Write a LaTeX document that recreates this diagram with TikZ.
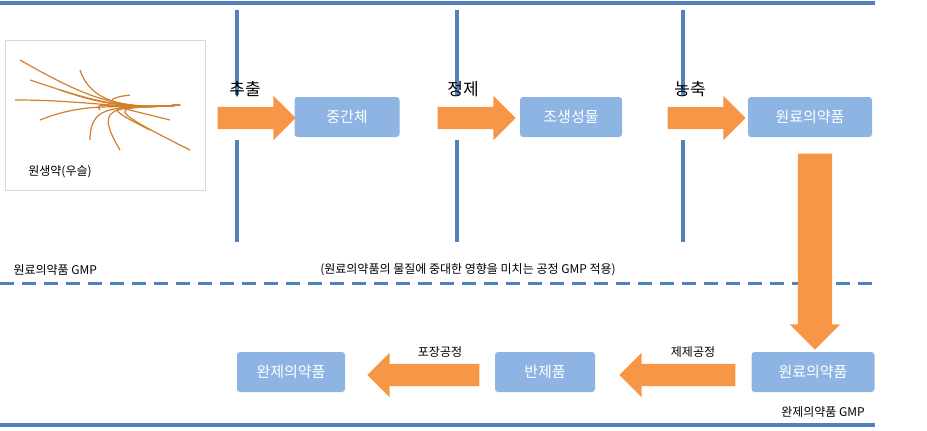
\documentclass[tikz,border=0pt]{standalone}
\usepackage{fontspec}
\setmainfont{Noto Sans CJK KR}
\usetikzlibrary{positioning, shapes.arrows}
\definecolor{lineblue}{HTML}{4F81BD}
\definecolor{boxblue}{HTML}{8EB4E3}
\definecolor{arrorange}{HTML}{F79646}
\newcommand{\shaft}[1]{\vrule width 0pt height #1 depth #1}
\tikzset{
    stepnode/.style = {fill=boxblue, rounded corners=0.3em, text=white, minimum height=40pt, font=\fontsize{15}{15}\selectfont},
    arrnode/.style = {single arrow, fill=arrorange, minimum height=78pt, single arrow head extend=11pt, single arrow tip angle=90, inner sep=0pt},
    labelnode/.style = {font=\fontsize{17}{17}\selectfont},
    smalltextnode/.style = {font=\fontsize{12}{12}\selectfont},
    bar/.style = {lineblue, line width=3.5pt}
}
\begin{document}
\begin{tikzpicture}[x=1pt, y=-1pt]
    \useasboundingbox (0,0) rectangle (927,431);
    % frame lines
    \draw[bar] (0,3) -- (875,3);
    \draw[bar] (0,425) -- (875,425);
    \draw[lineblue, line width=3pt, dash pattern=on 14pt off 8pt] (0,283) -- (875,283);
    \foreach \x in {237, 457, 683} {
        \draw[bar] (\x,10) -- (\x,95);
        \draw[bar] (\x,140) -- (\x,242);
    }
    % herb picture
    \node[draw=black!15, fill=white, minimum width=200pt, minimum height=150pt, name=P] at (105,115) {};
    \foreach \a/\b in {20/60, 30/80, 15/100, 40/120, 60/90, 80/70, 100/110, 130/95, 150/130, 170/120, 120/150, 90/140, 190/150} {
        \draw[brown!70!orange, line width=1.2pt] (\a,\b) .. controls (90,100) and (120,110) .. (180,105);
    }
    \node[smalltextnode, fill=white, name=PL] at (60,172) {원생약(우슬)};
    % top row
    \node[stepnode, minimum width=105pt, name=B1] at (347,117) {중간체};
    \node[stepnode, minimum width=102pt, name=B2] at (571,117) {조생성물};
    \node[stepnode, minimum width=124pt, name=B3] at (810,117) {원료의약품};
    \node[arrnode, name=A1] at (251,118) {\shaft{11pt}};
    \node[arrnode, name=A2] at (471,118) {\shaft{11pt}};
    \node[arrnode, name=A3] at (701,118) {\shaft{11pt}};
    \node[labelnode, name=L1] at (245,89) {추출};
    \node[labelnode, name=L2] at (463,89) {정제};
    \node[labelnode, name=L3] at (690,89) {농축};
    % down arrow
    \node[arrnode, rotate=270, minimum height=196pt, single arrow head extend=8pt, name=A4] at (815,243) {\shaft{17pt}};
    % texts at the GMP boundary
    \node[smalltextnode, anchor=west, name=T1] at (10,270) {원료의약품 GMP};
    \node[smalltextnode, name=T2] at (468,270) {(원료의약품의 물질에 중대한 영향을 미치는 공정 GMP 적용)};
    % bottom row
    \node[stepnode, minimum width=108pt, name=C1] at (291,372) {완제의약품};
    \node[stepnode, minimum width=100pt, name=C2] at (545,372) {반제품};
    \node[stepnode, minimum width=123pt, name=C3] at (813,372) {원료의약품};
    \node[arrnode, rotate=180, minimum height=116pt, name=A5] at (683,375) {\shaft{11pt}};
    \node[arrnode, rotate=180, minimum height=112pt, name=A6] at (429,375) {\shaft{11pt}};
    \node[smalltextnode, name=L4] at (693,352) {제제공정};
    \node[smalltextnode, name=L5] at (440,352) {포장공정};
    \node[smalltextnode, name=T3] at (823,412) {완제의약품 GMP};
\end{tikzpicture}
\end{document}
